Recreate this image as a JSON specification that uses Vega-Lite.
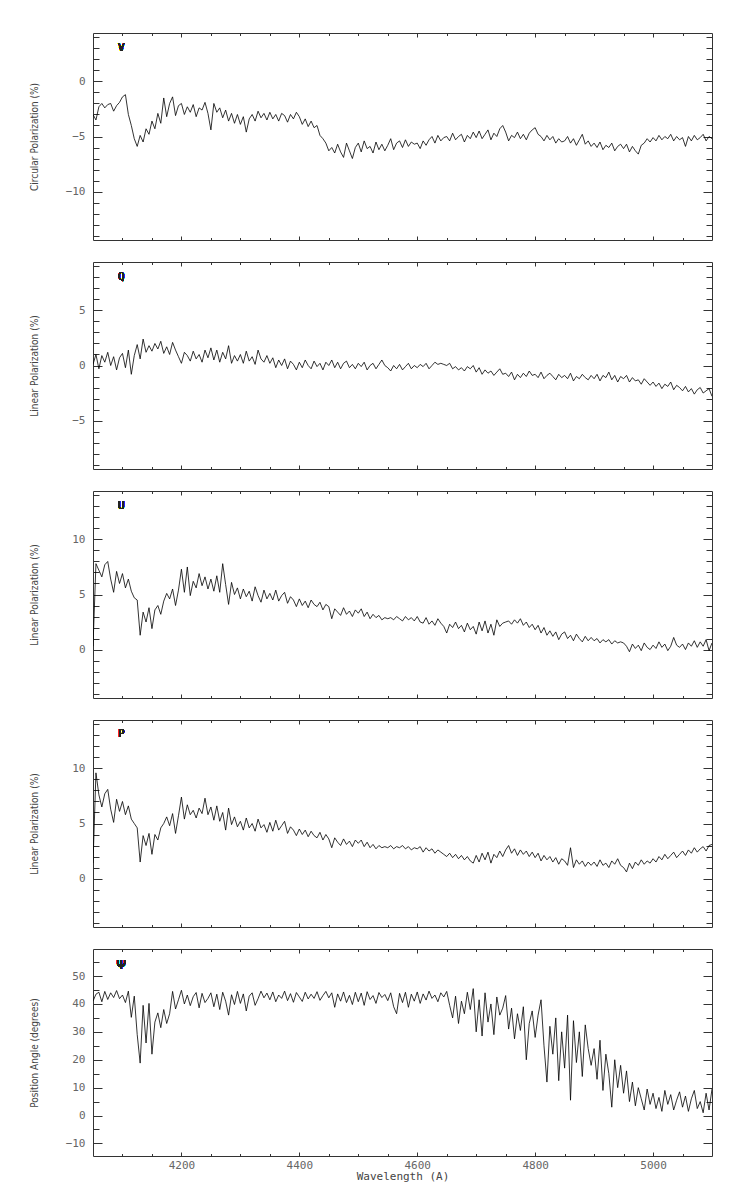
{
"$schema":"https://vega.github.io/schema/vega-lite/v6.json",
"background":"white",
"padding":{"left":28,"top":32,"right":5,"bottom":5},
"config":{
 "view":{"stroke":"#333","strokeWidth":1},
 "axis":{"domain":false,"grid":false,"tickColor":"#333","tickWidth":1,"labelFont":"DejaVu Sans Mono","labelFontSize":11,"labelColor":"#666","titleFont":"DejaVu Sans Condensed, Liberation Sans, sans-serif","titleFontSize":10,"titleColor":"#444","titleFontWeight":"normal"},
 "axisLeft":{"labelPadding":17,"titleX":-54},
 "axisBottom":{"labelPadding":7,"titleFont":"DejaVu Sans Mono","titleFontSize":11,"titlePadding":0},
 "text":{"font":"DejaVu Sans Mono","fontSize":11,"fill":"#222","fontWeight":"normal"}
},
"data":{"values":[
{"w":4050,"V":-3.0,"Q":0.1,"U":0.3,"P":1.4,"A":41.0},
{"w":4055,"V":-3.5,"Q":1.0,"U":7.8,"P":9.6,"A":43.5},
{"w":4060,"V":-2.3,"Q":-0.3,"U":7.2,"P":7.6,"A":44.2},
{"w":4065,"V":-2.0,"Q":0.9,"U":6.6,"P":6.5,"A":40.8},
{"w":4070,"V":-2.4,"Q":0.3,"U":7.7,"P":7.7,"A":44.5},
{"w":4075,"V":-2.1,"Q":1.2,"U":8.0,"P":8.1,"A":41.6},
{"w":4080,"V":-2.0,"Q":0.0,"U":6.4,"P":6.3,"A":44.0},
{"w":4085,"V":-2.7,"Q":0.8,"U":5.2,"P":5.1,"A":42.3},
{"w":4090,"V":-2.2,"Q":-0.4,"U":7.1,"P":7.2,"A":44.8},
{"w":4095,"V":-1.9,"Q":0.7,"U":6.0,"P":6.1,"A":41.9},
{"w":4100,"V":-1.4,"Q":1.1,"U":6.9,"P":7.0,"A":43.2},
{"w":4105,"V":-1.2,"Q":-0.2,"U":5.6,"P":5.8,"A":40.5},
{"w":4110,"V":-3.0,"Q":1.4,"U":6.4,"P":6.6,"A":44.6},
{"w":4115,"V":-4.0,"Q":-0.8,"U":5.3,"P":5.4,"A":35.2},
{"w":4120,"V":-5.2,"Q":0.9,"U":4.7,"P":5.0,"A":42.8},
{"w":4125,"V":-5.9,"Q":1.9,"U":4.5,"P":4.6,"A":29.0},
{"w":4130,"V":-4.9,"Q":0.6,"U":1.3,"P":1.5,"A":18.8},
{"w":4135,"V":-5.5,"Q":2.4,"U":3.4,"P":3.9,"A":39.5},
{"w":4140,"V":-4.3,"Q":1.2,"U":2.5,"P":3.0,"A":26.0},
{"w":4145,"V":-4.8,"Q":1.8,"U":3.8,"P":4.1,"A":40.2},
{"w":4150,"V":-3.6,"Q":1.3,"U":1.9,"P":2.2,"A":22.0},
{"w":4155,"V":-4.3,"Q":2.0,"U":3.6,"P":4.0,"A":33.5},
{"w":4160,"V":-2.9,"Q":1.5,"U":4.0,"P":3.5,"A":36.8},
{"w":4165,"V":-3.8,"Q":2.2,"U":3.2,"P":4.6,"A":31.5},
{"w":4170,"V":-1.5,"Q":1.1,"U":4.4,"P":5.0,"A":38.0},
{"w":4175,"V":-3.2,"Q":1.7,"U":5.1,"P":5.6,"A":33.0},
{"w":4180,"V":-2.0,"Q":1.0,"U":4.6,"P":4.8,"A":36.5},
{"w":4185,"V":-1.4,"Q":2.1,"U":5.5,"P":5.9,"A":44.5},
{"w":4190,"V":-3.1,"Q":1.4,"U":4.0,"P":4.1,"A":38.2},
{"w":4195,"V":-2.2,"Q":0.8,"U":5.4,"P":5.7,"A":41.5},
{"w":4200,"V":-2.0,"Q":0.2,"U":7.3,"P":7.4,"A":44.9},
{"w":4205,"V":-3.0,"Q":1.2,"U":5.2,"P":5.4,"A":40.0},
{"w":4210,"V":-2.3,"Q":0.9,"U":7.5,"P":6.7,"A":43.2},
{"w":4215,"V":-2.8,"Q":0.4,"U":4.9,"P":5.8,"A":39.4},
{"w":4220,"V":-2.1,"Q":1.3,"U":6.2,"P":6.2,"A":42.6},
{"w":4225,"V":-3.2,"Q":0.6,"U":5.6,"P":5.5,"A":44.1},
{"w":4230,"V":-2.4,"Q":1.0,"U":6.9,"P":6.4,"A":38.6},
{"w":4235,"V":-2.6,"Q":0.3,"U":5.8,"P":5.9,"A":43.8},
{"w":4240,"V":-1.9,"Q":1.4,"U":6.6,"P":7.3,"A":40.5},
{"w":4245,"V":-2.9,"Q":0.7,"U":5.5,"P":5.8,"A":42.0},
{"w":4250,"V":-4.4,"Q":1.6,"U":6.4,"P":6.5,"A":44.0},
{"w":4255,"V":-2.0,"Q":0.5,"U":5.3,"P":5.3,"A":39.0},
{"w":4260,"V":-2.8,"Q":1.4,"U":6.7,"P":6.6,"A":43.5},
{"w":4265,"V":-2.4,"Q":0.3,"U":5.2,"P":5.2,"A":38.0},
{"w":4270,"V":-3.3,"Q":1.2,"U":7.8,"P":6.0,"A":44.2},
{"w":4275,"V":-2.6,"Q":0.6,"U":5.9,"P":4.4,"A":41.0},
{"w":4280,"V":-3.6,"Q":1.8,"U":4.1,"P":6.4,"A":36.0},
{"w":4285,"V":-2.9,"Q":0.2,"U":6.1,"P":4.9,"A":43.3},
{"w":4290,"V":-3.8,"Q":0.9,"U":5.0,"P":5.6,"A":39.8},
{"w":4295,"V":-3.0,"Q":0.4,"U":5.6,"P":4.7,"A":44.5},
{"w":4300,"V":-3.9,"Q":1.0,"U":4.6,"P":5.2,"A":40.2},
{"w":4305,"V":-3.2,"Q":0.2,"U":5.5,"P":4.4,"A":43.6},
{"w":4310,"V":-4.6,"Q":1.3,"U":4.8,"P":5.5,"A":37.5},
{"w":4315,"V":-3.4,"Q":0.4,"U":5.3,"P":4.6,"A":42.8},
{"w":4320,"V":-3.0,"Q":0.8,"U":4.4,"P":5.0,"A":44.0},
{"w":4325,"V":-3.6,"Q":0.1,"U":5.7,"P":4.3,"A":39.5},
{"w":4330,"V":-2.7,"Q":1.4,"U":4.9,"P":5.4,"A":41.9},
{"w":4335,"V":-3.3,"Q":0.6,"U":4.3,"P":4.6,"A":44.6},
{"w":4340,"V":-2.9,"Q":0.3,"U":5.4,"P":4.9,"A":42.2},
{"w":4345,"V":-3.5,"Q":0.9,"U":4.6,"P":4.2,"A":43.9},
{"w":4350,"V":-2.8,"Q":0.2,"U":5.1,"P":5.1,"A":41.5},
{"w":4355,"V":-3.4,"Q":0.7,"U":4.5,"P":4.3,"A":44.3},
{"w":4360,"V":-3.0,"Q":-0.2,"U":5.4,"P":5.3,"A":40.8},
{"w":4365,"V":-3.6,"Q":0.5,"U":4.4,"P":4.4,"A":43.2},
{"w":4370,"V":-2.9,"Q":0.0,"U":4.9,"P":4.8,"A":42.0},
{"w":4375,"V":-3.1,"Q":0.6,"U":5.2,"P":5.2,"A":44.6},
{"w":4380,"V":-3.7,"Q":-0.3,"U":4.2,"P":4.1,"A":41.2},
{"w":4385,"V":-3.0,"Q":0.4,"U":4.8,"P":4.7,"A":43.7},
{"w":4390,"V":-3.4,"Q":0.1,"U":4.5,"P":4.4,"A":40.6},
{"w":4395,"V":-2.8,"Q":-0.4,"U":3.9,"P":3.9,"A":44.1},
{"w":4400,"V":-3.2,"Q":0.3,"U":4.6,"P":4.5,"A":42.5},
{"w":4405,"V":-3.9,"Q":-0.2,"U":4.0,"P":4.0,"A":40.9},
{"w":4410,"V":-3.4,"Q":0.5,"U":4.4,"P":4.4,"A":44.2},
{"w":4415,"V":-4.1,"Q":0.0,"U":3.8,"P":3.8,"A":41.8},
{"w":4420,"V":-3.6,"Q":-0.3,"U":4.5,"P":4.3,"A":43.5},
{"w":4425,"V":-4.2,"Q":0.4,"U":4.1,"P":3.9,"A":42.0},
{"w":4430,"V":-4.0,"Q":-0.1,"U":3.9,"P":3.7,"A":44.4},
{"w":4435,"V":-4.9,"Q":0.2,"U":4.3,"P":4.2,"A":41.3},
{"w":4440,"V":-5.2,"Q":-0.4,"U":3.6,"P":3.5,"A":43.0},
{"w":4445,"V":-5.6,"Q":0.3,"U":4.1,"P":4.0,"A":44.5},
{"w":4450,"V":-6.3,"Q":0.0,"U":3.9,"P":3.6,"A":42.2},
{"w":4455,"V":-6.0,"Q":0.5,"U":2.8,"P":2.8,"A":44.0},
{"w":4460,"V":-6.5,"Q":-0.2,"U":3.7,"P":3.7,"A":38.8},
{"w":4465,"V":-5.7,"Q":0.3,"U":3.4,"P":3.3,"A":43.6},
{"w":4470,"V":-6.4,"Q":-0.3,"U":3.1,"P":3.0,"A":41.0},
{"w":4475,"V":-6.9,"Q":0.2,"U":3.8,"P":3.6,"A":44.3},
{"w":4480,"V":-5.6,"Q":0.4,"U":3.2,"P":3.1,"A":40.5},
{"w":4485,"V":-6.3,"Q":-0.2,"U":3.5,"P":3.4,"A":43.1},
{"w":4490,"V":-7.0,"Q":0.1,"U":3.0,"P":2.9,"A":39.8},
{"w":4495,"V":-6.0,"Q":-0.3,"U":3.6,"P":3.5,"A":44.2},
{"w":4500,"V":-5.6,"Q":0.2,"U":3.3,"P":3.2,"A":40.8},
{"w":4505,"V":-6.4,"Q":-0.1,"U":3.7,"P":3.5,"A":43.9},
{"w":4510,"V":-5.4,"Q":0.3,"U":3.0,"P":2.9,"A":39.5},
{"w":4515,"V":-6.1,"Q":-0.4,"U":3.4,"P":3.3,"A":44.4},
{"w":4520,"V":-5.9,"Q":0.0,"U":2.8,"P":2.8,"A":41.6},
{"w":4525,"V":-6.5,"Q":0.2,"U":3.2,"P":3.1,"A":43.0},
{"w":4530,"V":-5.5,"Q":-0.3,"U":2.9,"P":2.7,"A":40.2},
{"w":4535,"V":-6.2,"Q":0.1,"U":3.1,"P":3.0,"A":44.1},
{"w":4540,"V":-5.7,"Q":0.5,"U":2.7,"P":2.8,"A":42.3},
{"w":4545,"V":-6.3,"Q":0.0,"U":2.9,"P":2.9,"A":43.4},
{"w":4550,"V":-5.8,"Q":-0.2,"U":2.8,"P":2.8,"A":41.2},
{"w":4555,"V":-5.2,"Q":-0.5,"U":2.9,"P":3.0,"A":44.0},
{"w":4560,"V":-6.2,"Q":0.0,"U":2.7,"P":2.7,"A":39.0},
{"w":4565,"V":-5.6,"Q":-0.3,"U":3.0,"P":2.9,"A":36.5},
{"w":4570,"V":-5.4,"Q":0.1,"U":2.8,"P":2.8,"A":43.8},
{"w":4575,"V":-6.0,"Q":-0.4,"U":2.6,"P":3.0,"A":40.5},
{"w":4580,"V":-5.3,"Q":-0.1,"U":3.0,"P":2.7,"A":44.2},
{"w":4585,"V":-5.9,"Q":0.2,"U":2.7,"P":2.9,"A":38.8},
{"w":4590,"V":-5.5,"Q":-0.3,"U":2.9,"P":2.6,"A":43.5},
{"w":4595,"V":-5.7,"Q":0.0,"U":2.6,"P":2.8,"A":41.0},
{"w":4600,"V":-5.6,"Q":-0.2,"U":3.0,"P":2.7,"A":44.3},
{"w":4605,"V":-6.1,"Q":0.1,"U":2.5,"P":2.9,"A":40.2},
{"w":4610,"V":-5.4,"Q":-0.1,"U":2.4,"P":2.4,"A":43.6},
{"w":4615,"V":-5.8,"Q":0.2,"U":2.9,"P":2.8,"A":41.4},
{"w":4620,"V":-5.3,"Q":-0.3,"U":2.3,"P":2.5,"A":44.6},
{"w":4625,"V":-5.0,"Q":0.0,"U":2.6,"P":2.7,"A":42.0},
{"w":4630,"V":-5.6,"Q":0.3,"U":2.2,"P":2.3,"A":43.2},
{"w":4635,"V":-4.9,"Q":0.1,"U":2.8,"P":2.6,"A":40.8},
{"w":4640,"V":-5.4,"Q":0.2,"U":2.4,"P":2.4,"A":44.0},
{"w":4645,"V":-5.1,"Q":0.1,"U":2.1,"P":2.2,"A":42.5},
{"w":4650,"V":-5.0,"Q":0.0,"U":1.5,"P":2.0,"A":44.5},
{"w":4655,"V":-5.4,"Q":0.2,"U":2.3,"P":2.3,"A":39.5},
{"w":4660,"V":-4.7,"Q":-0.3,"U":2.0,"P":1.9,"A":35.0},
{"w":4665,"V":-5.3,"Q":-0.1,"U":2.5,"P":2.2,"A":42.8},
{"w":4670,"V":-5.0,"Q":-0.4,"U":1.9,"P":1.8,"A":33.0},
{"w":4675,"V":-4.8,"Q":-0.2,"U":2.2,"P":2.1,"A":41.0},
{"w":4680,"V":-5.5,"Q":-0.5,"U":1.6,"P":1.7,"A":36.5},
{"w":4685,"V":-4.9,"Q":-0.1,"U":2.4,"P":2.0,"A":44.2},
{"w":4690,"V":-5.2,"Q":-0.3,"U":1.8,"P":1.6,"A":38.0},
{"w":4695,"V":-4.6,"Q":0.0,"U":2.1,"P":1.4,"A":45.5},
{"w":4700,"V":-5.1,"Q":-0.6,"U":1.4,"P":2.1,"A":30.0},
{"w":4705,"V":-4.5,"Q":-0.2,"U":2.5,"P":1.5,"A":41.5},
{"w":4710,"V":-5.2,"Q":-0.8,"U":1.7,"P":2.3,"A":28.5},
{"w":4715,"V":-4.8,"Q":-0.4,"U":2.6,"P":1.7,"A":44.0},
{"w":4720,"V":-4.4,"Q":-0.7,"U":1.5,"P":2.4,"A":33.5},
{"w":4725,"V":-5.3,"Q":-0.5,"U":2.3,"P":1.4,"A":40.0},
{"w":4730,"V":-4.7,"Q":-0.9,"U":1.3,"P":2.2,"A":29.0},
{"w":4735,"V":-5.0,"Q":-0.6,"U":2.7,"P":1.9,"A":42.5},
{"w":4740,"V":-4.3,"Q":-0.3,"U":2.1,"P":2.5,"A":36.0},
{"w":4745,"V":-4.0,"Q":-0.8,"U":2.4,"P":2.0,"A":38.5},
{"w":4750,"V":-4.6,"Q":-0.7,"U":2.5,"P":2.6,"A":43.0},
{"w":4755,"V":-5.4,"Q":-1.0,"U":2.6,"P":3.0,"A":31.0},
{"w":4760,"V":-4.9,"Q":-0.6,"U":2.3,"P":2.3,"A":38.5},
{"w":4765,"V":-5.1,"Q":-1.3,"U":2.7,"P":2.7,"A":27.5},
{"w":4770,"V":-4.6,"Q":-0.8,"U":2.4,"P":2.1,"A":36.5},
{"w":4775,"V":-5.2,"Q":-1.1,"U":2.8,"P":2.6,"A":30.5},
{"w":4780,"V":-4.8,"Q":-0.7,"U":2.2,"P":2.2,"A":39.0},
{"w":4785,"V":-5.3,"Q":-1.0,"U":2.5,"P":2.5,"A":20.0},
{"w":4790,"V":-4.7,"Q":-0.5,"U":2.0,"P":2.0,"A":33.0},
{"w":4795,"V":-4.4,"Q":-0.9,"U":2.3,"P":2.4,"A":37.5},
{"w":4800,"V":-4.2,"Q":-0.8,"U":1.8,"P":1.9,"A":28.0},
{"w":4805,"V":-4.8,"Q":-1.1,"U":2.2,"P":2.3,"A":36.0},
{"w":4810,"V":-5.0,"Q":-0.6,"U":1.5,"P":1.6,"A":41.5},
{"w":4815,"V":-5.4,"Q":-1.2,"U":2.0,"P":2.1,"A":25.0},
{"w":4820,"V":-4.9,"Q":-0.9,"U":1.3,"P":1.7,"A":12.0},
{"w":4825,"V":-5.3,"Q":-0.7,"U":1.7,"P":2.0,"A":32.0},
{"w":4830,"V":-5.0,"Q":-1.0,"U":1.2,"P":1.5,"A":22.0},
{"w":4835,"V":-5.6,"Q":-1.3,"U":1.6,"P":1.9,"A":35.0},
{"w":4840,"V":-5.2,"Q":-0.8,"U":0.9,"P":1.3,"A":12.5},
{"w":4845,"V":-5.5,"Q":-1.1,"U":1.4,"P":1.8,"A":30.0},
{"w":4850,"V":-5.4,"Q":-0.9,"U":1.6,"P":1.6,"A":17.0},
{"w":4855,"V":-5.0,"Q":-1.2,"U":1.0,"P":1.2,"A":36.0},
{"w":4860,"V":-5.6,"Q":-0.7,"U":1.3,"P":2.8,"A":5.5},
{"w":4865,"V":-5.2,"Q":-1.4,"U":0.8,"P":1.0,"A":34.0},
{"w":4870,"V":-5.8,"Q":-1.0,"U":1.4,"P":1.7,"A":19.0},
{"w":4875,"V":-5.3,"Q":-1.2,"U":1.0,"P":1.3,"A":30.0},
{"w":4880,"V":-4.8,"Q":-0.8,"U":0.7,"P":1.6,"A":14.0},
{"w":4885,"V":-5.7,"Q":-1.1,"U":1.2,"P":1.1,"A":32.5},
{"w":4890,"V":-5.4,"Q":-1.3,"U":0.8,"P":1.5,"A":24.0},
{"w":4895,"V":-5.9,"Q":-0.9,"U":1.1,"P":1.2,"A":18.0},
{"w":4900,"V":-5.6,"Q":-1.2,"U":0.8,"P":1.5,"A":24.0},
{"w":4905,"V":-6.0,"Q":-0.8,"U":1.0,"P":1.1,"A":13.0},
{"w":4910,"V":-5.5,"Q":-1.4,"U":0.6,"P":1.7,"A":27.0},
{"w":4915,"V":-6.2,"Q":-0.9,"U":0.9,"P":1.2,"A":9.0},
{"w":4920,"V":-5.8,"Q":-1.1,"U":0.7,"P":1.4,"A":22.0},
{"w":4925,"V":-6.0,"Q":-0.6,"U":0.9,"P":1.0,"A":15.0},
{"w":4930,"V":-5.6,"Q":-1.3,"U":0.5,"P":1.6,"A":3.0},
{"w":4935,"V":-6.3,"Q":-0.9,"U":0.8,"P":1.3,"A":20.0},
{"w":4940,"V":-5.9,"Q":-1.5,"U":0.6,"P":1.8,"A":10.0},
{"w":4945,"V":-5.7,"Q":-1.0,"U":0.7,"P":1.2,"A":18.0},
{"w":4950,"V":-6.1,"Q":-1.2,"U":0.6,"P":1.0,"A":8.0},
{"w":4955,"V":-5.7,"Q":-0.9,"U":0.3,"P":0.6,"A":16.0},
{"w":4960,"V":-6.4,"Q":-1.5,"U":-0.2,"P":1.4,"A":5.0},
{"w":4965,"V":-5.9,"Q":-1.1,"U":0.5,"P":0.9,"A":12.0},
{"w":4970,"V":-6.3,"Q":-1.4,"U":0.1,"P":1.5,"A":3.5},
{"w":4975,"V":-6.6,"Q":-1.3,"U":0.4,"P":1.2,"A":10.0},
{"w":4980,"V":-5.8,"Q":-1.7,"U":-0.1,"P":1.7,"A":6.0},
{"w":4985,"V":-5.6,"Q":-1.2,"U":0.6,"P":1.3,"A":2.0},
{"w":4990,"V":-5.2,"Q":-1.5,"U":0.2,"P":1.6,"A":9.5},
{"w":4995,"V":-5.5,"Q":-1.8,"U":0.0,"P":1.4,"A":4.0},
{"w":5000,"V":-5.1,"Q":-1.5,"U":0.4,"P":1.8,"A":8.0},
{"w":5005,"V":-5.4,"Q":-1.9,"U":0.1,"P":1.5,"A":2.5},
{"w":5010,"V":-4.9,"Q":-1.6,"U":0.7,"P":2.0,"A":6.5},
{"w":5015,"V":-5.3,"Q":-2.1,"U":0.2,"P":1.7,"A":1.5},
{"w":5020,"V":-5.0,"Q":-1.7,"U":0.5,"P":2.2,"A":9.0},
{"w":5025,"V":-5.2,"Q":-1.9,"U":-0.1,"P":1.8,"A":4.0},
{"w":5030,"V":-4.8,"Q":-1.5,"U":0.3,"P":2.1,"A":7.5},
{"w":5035,"V":-5.4,"Q":-2.2,"U":1.1,"P":2.4,"A":2.0},
{"w":5040,"V":-5.0,"Q":-1.8,"U":0.4,"P":1.9,"A":5.5},
{"w":5045,"V":-5.3,"Q":-2.0,"U":0.2,"P":2.2,"A":8.5},
{"w":5050,"V":-5.1,"Q":-2.3,"U":0.5,"P":2.5,"A":3.0},
{"w":5055,"V":-5.9,"Q":-1.9,"U":0.0,"P":2.1,"A":7.0},
{"w":5060,"V":-5.0,"Q":-2.4,"U":0.6,"P":2.6,"A":1.5},
{"w":5065,"V":-5.4,"Q":-2.1,"U":0.3,"P":2.3,"A":6.0},
{"w":5070,"V":-4.9,"Q":-2.6,"U":0.8,"P":2.8,"A":9.0},
{"w":5075,"V":-5.3,"Q":-2.2,"U":0.2,"P":2.4,"A":2.5},
{"w":5080,"V":-5.1,"Q":-2.0,"U":0.7,"P":2.7,"A":5.0},
{"w":5085,"V":-4.8,"Q":-2.5,"U":0.3,"P":2.9,"A":1.0},
{"w":5090,"V":-5.4,"Q":-2.3,"U":0.9,"P":2.5,"A":8.0},
{"w":5095,"V":-5.0,"Q":-2.1,"U":-0.1,"P":3.0,"A":2.0},
{"w":5100,"V":-5.2,"Q":-2.8,"U":0.6,"P":3.1,"A":9.5}
]},
"spacing":22,
"bounds":"flush",
"vconcat":[
{"width":619,"height":207,
 "layer":[
  {"mark":{"type":"line","color":"#000","strokeWidth":0.8,"clip":true},
   "encoding":{
    "x":{"field":"w","type":"quantitative","scale":{"domain":[4050,5100],"nice":false,"zero":false},
     "axis":{"orient":"bottom","values":[4100,4150,4200,4250,4300,4350,4400,4450,4500,4550,4600,4650,4700,4750,4800,4850,4900,4950,5000,5050],"labels":false,"title":null,"tickSize":{"condition":{"test":"datum.value % 200 === 0","value":-4},"value":-2.5}}},
    "y":{"field":"V","type":"quantitative","scale":{"domain":[-14.4,4.4],"nice":false,"zero":false},
     "axis":{"orient":"left","values":[-14,-13,-12,-11,-10,-9,-8,-7,-6,-5,-4,-3,-2,-1,0,1,2,3,4],"labelExpr":"datum.value % 5 === 0 ? datum.label : ''","tickSize":{"condition":{"test":"datum.value % 5 === 0","value":-9},"value":-6},"title":"Circular Polarization (%)"}}
   }},
  {"mark":{"type":"line","strokeOpacity":0},
   "encoding":{
    "x":{"field":"w","type":"quantitative","axis":{"orient":"top","values":[4100,4150,4200,4250,4300,4350,4400,4450,4500,4550,4600,4650,4700,4750,4800,4850,4900,4950,5000,5050],"labels":false,"title":null,"tickSize":{"condition":{"test":"datum.value % 200 === 0","value":-4},"value":-2.5}}},
    "y":{"field":"V","type":"quantitative","axis":{"orient":"right","values":[-14,-13,-12,-11,-10,-9,-8,-7,-6,-5,-4,-3,-2,-1,0,1,2,3,4],"labels":false,"title":null,"tickSize":{"condition":{"test":"datum.value % 5 === 0","value":-9},"value":-6}}}
   }},
  {"mark":{"type":"text","font":"DejaVu Sans Mono","fontSize":11,"fill":"#222","fontWeight":"normal"},
   "encoding":{"x":{"datum":4098,"type":"quantitative","axis":null},"y":{"datum":3.0,"type":"quantitative","axis":null},"text":{"value":"V"}}}
 ],
 "resolve":{"axis":{"x":"independent","y":"independent"}}
},
{"width":619,"height":207,
 "layer":[
  {"mark":{"type":"line","color":"#000","strokeWidth":0.8,"clip":true},
   "encoding":{
    "x":{"field":"w","type":"quantitative","scale":{"domain":[4050,5100],"nice":false,"zero":false},
     "axis":{"orient":"bottom","values":[4100,4150,4200,4250,4300,4350,4400,4450,4500,4550,4600,4650,4700,4750,4800,4850,4900,4950,5000,5050],"labels":false,"title":null,"tickSize":{"condition":{"test":"datum.value % 200 === 0","value":-4},"value":-2.5}}},
    "y":{"field":"Q","type":"quantitative","scale":{"domain":[-9.4,9.4],"nice":false,"zero":false},
     "axis":{"orient":"left","values":[-9,-8,-7,-6,-5,-4,-3,-2,-1,0,1,2,3,4,5,6,7,8,9],"labelExpr":"datum.value % 5 === 0 ? datum.label : ''","tickSize":{"condition":{"test":"datum.value % 5 === 0","value":-9},"value":-6},"title":"Linear Polarization (%)"}}
   }},
  {"mark":{"type":"line","strokeOpacity":0},
   "encoding":{
    "x":{"field":"w","type":"quantitative","axis":{"orient":"top","values":[4100,4150,4200,4250,4300,4350,4400,4450,4500,4550,4600,4650,4700,4750,4800,4850,4900,4950,5000,5050],"labels":false,"title":null,"tickSize":{"condition":{"test":"datum.value % 200 === 0","value":-4},"value":-2.5}}},
    "y":{"field":"Q","type":"quantitative","axis":{"orient":"right","values":[-9,-8,-7,-6,-5,-4,-3,-2,-1,0,1,2,3,4,5,6,7,8,9],"labels":false,"title":null,"tickSize":{"condition":{"test":"datum.value % 5 === 0","value":-9},"value":-6}}}
   }},
  {"mark":{"type":"text","font":"DejaVu Sans Mono","fontSize":11,"fill":"#222","fontWeight":"normal"},
   "encoding":{"x":{"datum":4098,"type":"quantitative","axis":null},"y":{"datum":8.0,"type":"quantitative","axis":null},"text":{"value":"Q"}}}
 ],
 "resolve":{"axis":{"x":"independent","y":"independent"}}
},
{"width":619,"height":207,
 "layer":[
  {"mark":{"type":"line","color":"#000","strokeWidth":0.8,"clip":true},
   "encoding":{
    "x":{"field":"w","type":"quantitative","scale":{"domain":[4050,5100],"nice":false,"zero":false},
     "axis":{"orient":"bottom","values":[4100,4150,4200,4250,4300,4350,4400,4450,4500,4550,4600,4650,4700,4750,4800,4850,4900,4950,5000,5050],"labels":false,"title":null,"tickSize":{"condition":{"test":"datum.value % 200 === 0","value":-4},"value":-2.5}}},
    "y":{"field":"U","type":"quantitative","scale":{"domain":[-4.4,14.4],"nice":false,"zero":false},
     "axis":{"orient":"left","values":[-4,-3,-2,-1,0,1,2,3,4,5,6,7,8,9,10,11,12,13,14],"labelExpr":"datum.value % 5 === 0 ? datum.label : ''","tickSize":{"condition":{"test":"datum.value % 5 === 0","value":-9},"value":-6},"title":"Linear Polarization (%)"}}
   }},
  {"mark":{"type":"line","strokeOpacity":0},
   "encoding":{
    "x":{"field":"w","type":"quantitative","axis":{"orient":"top","values":[4100,4150,4200,4250,4300,4350,4400,4450,4500,4550,4600,4650,4700,4750,4800,4850,4900,4950,5000,5050],"labels":false,"title":null,"tickSize":{"condition":{"test":"datum.value % 200 === 0","value":-4},"value":-2.5}}},
    "y":{"field":"U","type":"quantitative","axis":{"orient":"right","values":[-4,-3,-2,-1,0,1,2,3,4,5,6,7,8,9,10,11,12,13,14],"labels":false,"title":null,"tickSize":{"condition":{"test":"datum.value % 5 === 0","value":-9},"value":-6}}}
   }},
  {"mark":{"type":"text","font":"DejaVu Sans Mono","fontSize":11,"fill":"#222","fontWeight":"normal"},
   "encoding":{"x":{"datum":4098,"type":"quantitative","axis":null},"y":{"datum":13.0,"type":"quantitative","axis":null},"text":{"value":"U"}}}
 ],
 "resolve":{"axis":{"x":"independent","y":"independent"}}
},
{"width":619,"height":207,
 "layer":[
  {"mark":{"type":"line","color":"#000","strokeWidth":0.8,"clip":true},
   "encoding":{
    "x":{"field":"w","type":"quantitative","scale":{"domain":[4050,5100],"nice":false,"zero":false},
     "axis":{"orient":"bottom","values":[4100,4150,4200,4250,4300,4350,4400,4450,4500,4550,4600,4650,4700,4750,4800,4850,4900,4950,5000,5050],"labels":false,"title":null,"tickSize":{"condition":{"test":"datum.value % 200 === 0","value":-4},"value":-2.5}}},
    "y":{"field":"P","type":"quantitative","scale":{"domain":[-4.4,14.4],"nice":false,"zero":false},
     "axis":{"orient":"left","values":[-4,-3,-2,-1,0,1,2,3,4,5,6,7,8,9,10,11,12,13,14],"labelExpr":"datum.value % 5 === 0 ? datum.label : ''","tickSize":{"condition":{"test":"datum.value % 5 === 0","value":-9},"value":-6},"title":"Linear Polarization (%)"}}
   }},
  {"mark":{"type":"line","strokeOpacity":0},
   "encoding":{
    "x":{"field":"w","type":"quantitative","axis":{"orient":"top","values":[4100,4150,4200,4250,4300,4350,4400,4450,4500,4550,4600,4650,4700,4750,4800,4850,4900,4950,5000,5050],"labels":false,"title":null,"tickSize":{"condition":{"test":"datum.value % 200 === 0","value":-4},"value":-2.5}}},
    "y":{"field":"P","type":"quantitative","axis":{"orient":"right","values":[-4,-3,-2,-1,0,1,2,3,4,5,6,7,8,9,10,11,12,13,14],"labels":false,"title":null,"tickSize":{"condition":{"test":"datum.value % 5 === 0","value":-9},"value":-6}}}
   }},
  {"mark":{"type":"text","font":"DejaVu Sans Mono","fontSize":11,"fill":"#222","fontWeight":"normal"},
   "encoding":{"x":{"datum":4098,"type":"quantitative","axis":null},"y":{"datum":13.1,"type":"quantitative","axis":null},"text":{"value":"P"}}}
 ],
 "resolve":{"axis":{"x":"independent","y":"independent"}}
},
{"width":619,"height":207,
 "layer":[
  {"mark":{"type":"line","color":"#000","strokeWidth":0.8,"clip":true},
   "encoding":{
    "x":{"field":"w","type":"quantitative","scale":{"domain":[4050,5100],"nice":false,"zero":false},
     "axis":{"orient":"bottom","values":[4100,4150,4200,4250,4300,4350,4400,4450,4500,4550,4600,4650,4700,4750,4800,4850,4900,4950,5000,5050],"labelExpr":"datum.value % 200 === 0 ? datum.label : ''","format":"d","title":"Wavelength (A)","tickSize":{"condition":{"test":"datum.value % 200 === 0","value":-4},"value":-2.5}}},
    "y":{"field":"A","type":"quantitative","scale":{"domain":[-14.5,59.7],"nice":false,"zero":false},
     "axis":{"orient":"left","values":[-10,-5,0,5,10,15,20,25,30,35,40,45,50,55],"labelExpr":"datum.value % 10 === 0 ? datum.label : ''","tickSize":{"condition":{"test":"datum.value % 10 === 0","value":-9},"value":-6},"title":"Position Angle (degrees)"}}
   }},
  {"mark":{"type":"line","strokeOpacity":0},
   "encoding":{
    "x":{"field":"w","type":"quantitative","axis":{"orient":"top","values":[4100,4150,4200,4250,4300,4350,4400,4450,4500,4550,4600,4650,4700,4750,4800,4850,4900,4950,5000,5050],"labels":false,"title":null,"tickSize":{"condition":{"test":"datum.value % 200 === 0","value":-4},"value":-2.5}}},
    "y":{"field":"A","type":"quantitative","axis":{"orient":"right","values":[-10,-5,0,5,10,15,20,25,30,35,40,45,50,55],"labels":false,"title":null,"tickSize":{"condition":{"test":"datum.value % 10 === 0","value":-9},"value":-6}}}
   }},
  {"mark":{"type":"text","font":"DejaVu Sans","fontSize":12,"fill":"#222","fontWeight":"normal"},
   "encoding":{"x":{"datum":4098,"type":"quantitative","axis":null},"y":{"datum":53.8,"type":"quantitative","axis":null},"text":{"value":"Ψ"}}}
 ],
 "resolve":{"axis":{"x":"independent","y":"independent"}}
}
]
}
